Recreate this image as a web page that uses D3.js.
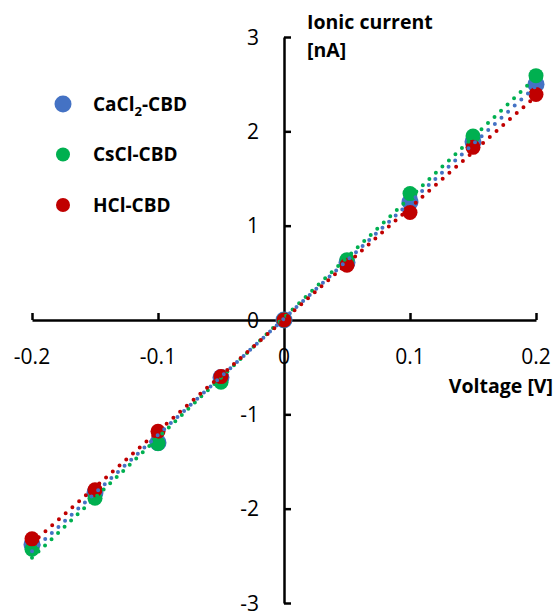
<!DOCTYPE html>
<html>
<head>
<meta charset="utf-8">
<script src="https://cdn.jsdelivr.net/npm/d3@7"></script>
<style>
  html, body { margin: 0; padding: 0; background: #fff; }
  svg { display: block; font-family: "Open Sans", Carlito, Calibri, sans-serif; }
</style>
</head>
<body>
<svg id="chart" width="556" height="616"></svg>
<script>
const voltages = [-0.2, -0.15, -0.1, -0.05, 0, 0.05, 0.1, 0.15, 0.2];
const cacl2 = [-2.38, -1.83, -1.30, -0.61, 0, 0.61, 1.25, 1.89, 2.50];
const cscl = [-2.43, -1.89, -1.31, -0.66, 0, 0.64, 1.34, 1.95, 2.59];
const hcl = [-2.32, -1.80, -1.18, -0.60, 0, 0.58, 1.14, 1.83, 2.39];
const seriesNames = ["CaCl₂-CBD", "CsCl-CBD", "HCl-CBD"];
const seriesColors = ["#4472C4", "#00B050", "#C00000"];
const xTicks = [-0.2, -0.1, 0, 0.1, 0.2];
const yTicks = [-3, -2, -1, 0, 1, 2, 3];

(() => {
  const svg = d3.select("#chart");

  const x = d3.scaleLinear().domain([-0.2, 0.2]).range([32, 536]);
  const y = d3.scaleLinear().domain([-3, 3]).range([603, 37]);

  const series = [cacl2, cscl, hcl].map((vals, i) => ({
    name: seriesNames[i],
    color: seriesColors[i],
    r: i === 0 ? 8.5 : 7.5,
    points: voltages.map((v, j) => ({ v, c: vals[j] }))
  }));

  // axes cross at zero, ticks inside
  const xAxis = svg.append("g")
    .attr("transform", `translate(0, ${y(0)})`)
    .call(d3.axisTop(x).tickValues(xTicks).tickSize(7).tickSizeOuter(0).tickFormat(""));
  xAxis.select(".domain").attr("stroke", "#000").attr("stroke-width", 2.5);
  xAxis.selectAll(".tick line").attr("stroke", "#000").attr("stroke-width", 2.5);

  const yAxis = svg.append("g")
    .attr("transform", `translate(${x(0)}, 0)`)
    .call(d3.axisRight(y).tickValues(yTicks).tickSize(7).tickSizeOuter(0).tickFormat(""));
  yAxis.select(".domain").attr("stroke", "#000").attr("stroke-width", 2.5);
  yAxis.selectAll(".tick line").attr("stroke", "#000").attr("stroke-width", 2.5);

  const fmt = d => String(d);

  svg.append("g").selectAll("text")
    .data(xTicks)
    .join("text")
    .attr("x", d => x(d))
    .attr("y", 364)
    .attr("text-anchor", "middle")
    .style("font-size", "21px")
    .attr("fill", "#000")
    .text(fmt);

  svg.append("g").selectAll("text")
    .data(yTicks)
    .join("text")
    .attr("x", x(0) - 25)
    .attr("y", d => y(d))
    .attr("dy", "0.36em")
    .attr("text-anchor", "end")
    .style("font-size", "21px")
    .attr("fill", "#000")
    .text(fmt);

  // axis titles
  const yTitle = svg.append("text")
    .attr("x", 307)
    .attr("y", 29)
    .style("font-size", "19.5px")
    .style("font-weight", "bold");
  yTitle.append("tspan").attr("x", 307).text("Ionic current");
  yTitle.append("tspan").attr("x", 307).attr("dy", 28).text("[nA]");

  svg.append("text")
    .attr("x", 553)
    .attr("y", 393)
    .attr("text-anchor", "end")
    .style("font-size", "19.5px")
    .style("font-weight", "bold")
    .text("Voltage [V]");

  // markers
  series.forEach(s => {
    svg.append("g").selectAll("circle")
      .data(s.points)
      .join("circle")
      .attr("cx", d => x(d.v))
      .attr("cy", d => y(d.c))
      .attr("r", s.r)
      .attr("fill", s.color);
  });

  // linear trendlines, dotted
  series.forEach(s => {
    const mx = d3.mean(s.points, d => d.v);
    const my = d3.mean(s.points, d => d.c);
    const sxy = d3.sum(s.points, d => (d.v - mx) * (d.c - my));
    const sxx = d3.sum(s.points, d => (d.v - mx) ** 2);
    const slope = sxy / sxx;
    const icpt = my - slope * mx;
    const ends = d3.extent(voltages).map(v => ({ v, c: slope * v + icpt }));
    svg.append("path")
      .datum(ends)
      .attr("fill", "none")
      .attr("stroke", s.color)
      .attr("stroke-width", 4)
      .attr("stroke-linecap", "round")
      .attr("stroke-dasharray", "0 9")
      .attr("d", d3.line().x(d => x(d.v)).y(d => y(d.c)));
  });

  // legend
  const legend = svg.append("g");
  series.forEach((s, i) => {
    const ly = 104 + i * 50.5;
    legend.append("circle")
      .attr("cx", 63)
      .attr("cy", ly)
      .attr("r", i === 0 ? 8.5 : 7)
      .attr("fill", s.color);
    const t = legend.append("text")
      .attr("x", 93)
      .attr("y", ly)
      .attr("dy", "0.36em")
      .style("font-size", "19px")
      .style("font-weight", "bold");
    if (i === 0) {
      t.append("tspan").text("CaCl");
      t.append("tspan").attr("dy", 5).style("font-size", "13px").text("2");
      t.append("tspan").attr("dy", -5).text("-CBD");
    } else {
      t.text(s.name);
    }
  });
})();
</script>
</body>
</html>
